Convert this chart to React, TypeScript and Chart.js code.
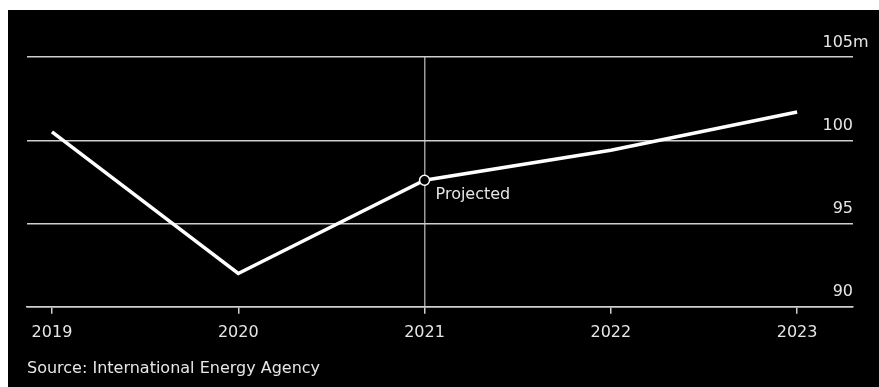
import React, { useEffect, useRef } from "react";
import { Chart, registerables } from "chart.js";

Chart.register(...registerables);

const years = [2019, 2020, 2021, 2022, 2023];
const demand = [100.5, 92.0, 97.6, 99.4, 101.7];
const yTicks = [90, 95, 100, 105];
const yUnit = "m";
const projectedYear = 2021;
const projectedLabel = "Projected";
const sourceText = "Source: International Energy Agency";

const FONT = "'DejaVu Sans', 'Liberation Sans', Arial, sans-serif";
const TEXT = "#e6e6e6";
const GRID = "#cfcfcf";

const overlayPlugin = {
  id: "overlay",
  afterDraw(chart: any) {
    const { ctx, chartArea, scales } = chart;
    const y = scales.y;
    const x = scales.x;
    ctx.save();
    ctx.font = `16px ${FONT}`;
    ctx.fillStyle = TEXT;
    ctx.textBaseline = "alphabetic";
    yTicks.forEach((v, i) => {
      const py = y.getPixelForValue(v) - 10.5;
      ctx.textAlign = "right";
      ctx.fillText(String(v), chartArea.right, py);
      if (i === yTicks.length - 1) {
        ctx.textAlign = "left";
        ctx.fillText(yUnit, chartArea.right, py);
      }
    });
    const idx = years.indexOf(projectedYear);
    const px = x.getPixelForValue(projectedYear);
    const py = y.getPixelForValue(demand[idx]);
    ctx.textAlign = "left";
    ctx.fillText(projectedLabel, px + 11, py + 18.5);
    ctx.restore();
  },
};

export default function App() {
  const ref = useRef<HTMLCanvasElement>(null);
  useEffect(() => {
    if (!ref.current) return;
    const chart = new Chart(ref.current, {
      type: "line",
      data: {
        datasets: [
          {
            data: years.map((yr, i) => ({ x: yr, y: demand[i] })),
            borderColor: "#ffffff",
            borderWidth: 3.5,
            tension: 0,
            pointRadius: years.map((yr) => (yr === projectedYear ? 5 : 0)),
            pointBackgroundColor: "#000000",
            pointBorderColor: "#ffffff",
            pointBorderWidth: 1.5,
            clip: false as any,
          },
        ],
      },
      options: {
        animation: false,
        responsive: false,
        maintainAspectRatio: false,
        layout: { padding: { top: 47, left: 19, right: 26, bottom: 36 } },
        plugins: { legend: { display: false }, tooltip: { enabled: false } },
        scales: {
          x: {
            type: "linear",
            min: 2018.866,
            max: 2023.3,
            afterBuildTicks: (scale: any) => {
              scale.ticks = years.map((v) => ({ value: v }));
            },
            grid: {
              drawOnChartArea: true,
              color: (c: any) => (c.tick && c.tick.value === projectedYear ? "#9a9a9a" : "rgba(0,0,0,0)"),
              lineWidth: 1.5,
              tickColor: GRID,
              tickLength: 7,
              drawTicks: true,
            },
            border: { display: true, color: GRID, width: 1.5 },
            ticks: {
              color: TEXT,
              font: { family: FONT, size: 16 },
              padding: 9,
              maxRotation: 0,
              callback: (v: any) => String(v),
            },
          },
          y: {
            position: "right",
            min: 90,
            max: 105,
            afterBuildTicks: (scale: any) => {
              scale.ticks = yTicks.map((v) => ({ value: v }));
            },
            grid: { color: GRID, lineWidth: 1.5, drawTicks: false },
            border: { display: false },
            ticks: { display: false },
          },
        },
      },
      plugins: [overlayPlugin],
    });
    return () => chart.destroy();
  }, []);

  return (
    <div
      style={{
        position: "absolute",
        left: 8,
        top: 10,
        width: 871,
        height: 377,
        background: "#000",
      }}
    >
      <canvas ref={ref} width={871} height={377} style={{ display: "block" }} />
      <div
        style={{
          position: "absolute",
          left: 19,
          top: 348,
          fontFamily: FONT,
          fontSize: 16,
          lineHeight: "20px",
          color: TEXT,
          whiteSpace: "nowrap",
        }}
      >
        {sourceText}
      </div>
    </div>
  );
}
